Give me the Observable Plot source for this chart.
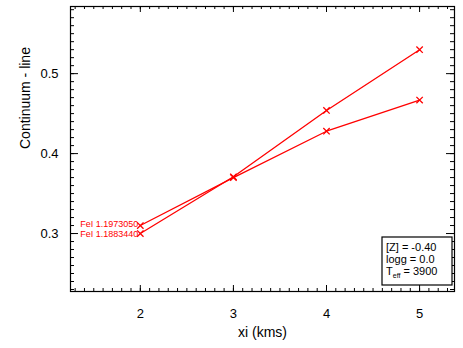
<!DOCTYPE html>
<html>
<head>
<meta charset="utf-8">
<script src="https://cdn.jsdelivr.net/npm/d3@7"></script>
<script src="https://cdn.jsdelivr.net/npm/@observablehq/plot@0.6"></script>
<style>
  html, body { margin: 0; padding: 0; background: #fff; }
  #chart { position: relative; width: 463px; height: 348px; }
</style>
</head>
<body>
<div id="chart"></div>
<script>
// ---- data ----
const xi = [2, 3, 4, 5];
const lineA = [0.300, 0.371, 0.454, 0.530]; // FeI 1.1883440
const lineB = [0.310, 0.370, 0.428, 0.467]; // FeI 1.1973050
const seriesNames = ["FeI 1.1883440", "FeI 1.1973050"];
const xMajor = [2, 3, 4, 5];
const yMajor = [0.3, 0.4, 0.5];
const xMinor = d3.range(13, 54).map(d => d / 10);
const yMinor = d3.range(23, 59).map(d => d / 100);
const legendLines = ["[Z] = -0.40", "logg = 0.0", "3900"];

const W = 463, H = 348;
const mL = 70, mR = 9, mT = 6, mB = 57;
const pw = W - mL - mR, ph = H - mT - mB;

const rows = [];
[lineA, lineB].forEach((vals, i) => vals.forEach((v, j) => rows.push({x: xi[j], y: v, s: seriesNames[i]})));
const starts = [lineA, lineB].map((vals, i) => ({x: xi[0], y: vals[0], s: seriesNames[i], off: i === 0 ? 0.5 : -1.5}));

const font = "'Liberation Sans', Arial, Helvetica, sans-serif";
const xMajLen = 6, xMinLen = 3, yMajLen = 8, yMinLen = 4;

const plot = Plot.plot({
  width: W, height: H,
  marginLeft: mL, marginRight: mR, marginTop: mT, marginBottom: mB,
  style: {fontFamily: font, fontSize: "13px", background: "#fff", color: "#000"},
  x: {domain: [1.25, 5.375], axis: null},
  y: {domain: [0.2275, 0.584], axis: null},
  marks: [
    // ticks (inward, all four sides)
    Plot.tickX(xMajor, {x: d => d, insetTop: ph - xMajLen, stroke: "#000"}),
    Plot.tickX(xMajor, {x: d => d, insetBottom: ph - xMajLen, stroke: "#000"}),
    Plot.tickX(xMinor, {x: d => d, insetTop: ph - xMinLen, stroke: "#000"}),
    Plot.tickX(xMinor, {x: d => d, insetBottom: ph - xMinLen, stroke: "#000"}),
    Plot.tickY(yMajor, {y: d => d, insetRight: pw - yMajLen, stroke: "#000"}),
    Plot.tickY(yMajor, {y: d => d, insetLeft: pw - yMajLen, stroke: "#000"}),
    Plot.tickY(yMinor, {y: d => d, insetRight: pw - yMinLen, stroke: "#000"}),
    Plot.tickY(yMinor, {y: d => d, insetLeft: pw - yMinLen, stroke: "#000"}),
    Plot.frame({stroke: "#000", strokeWidth: 1.2}),
    // tick labels
    Plot.text(xMajor, {x: d => d, frameAnchor: "bottom", dy: 22, lineAnchor: "middle", text: d => String(d), fontSize: 13}),
    Plot.text(yMajor, {y: d => d, frameAnchor: "left", dx: -12, textAnchor: "end", text: d => d.toFixed(1), fontSize: 13}),
    // axis titles
    Plot.text(["xi (kms)"], {frameAnchor: "bottom", dy: 41, lineAnchor: "middle", text: d => d, fontSize: 14}),
    Plot.text(["Continuum - line"], {frameAnchor: "left", dx: -45, rotate: -90, text: d => d, fontSize: 14}),
    // data
    Plot.line(rows, {x: "x", y: "y", z: "s", stroke: "#ff0000", strokeWidth: 1.3}),
    Plot.dot(rows, {x: "x", y: "y", symbol: "times", r: 3, stroke: "#ff0000", strokeWidth: 1.3}),
    Plot.text(starts.slice(0, 1), {x: "x", y: "y", text: "s", textAnchor: "end", dx: -2, dy: 0.5, fill: "#ff0000", fontSize: 9}),
    Plot.text(starts.slice(1), {x: "x", y: "y", text: "s", textAnchor: "end", dx: -2, dy: -1.5, fill: "#ff0000", fontSize: 9})
  ]
});
document.getElementById("chart").appendChild(plot);

// legend box annotation
const svg = d3.select(plot);
const g = svg.append("g").attr("font-family", font).attr("font-size", 11)
  .attr("fill", "#000").attr("text-anchor", "start");
g.append("rect").attr("x", 382).attr("y", 237).attr("width", 70).attr("height", 48)
  .attr("fill", "#fff").attr("stroke", "#000").attr("stroke-width", 1.2);
g.append("text").attr("x", 386).attr("y", 251).attr("text-anchor", "start").text(legendLines[0]);
g.append("text").attr("x", 386).attr("y", 263).attr("text-anchor", "start").text(legendLines[1]);
const t = g.append("text").attr("x", 386).attr("y", 275).attr("text-anchor", "start");
t.append("tspan").text("T");
t.append("tspan").attr("dy", 3).attr("font-size", 7).text("eff");
t.append("tspan").attr("dy", -3).text(" = " + legendLines[2]);
</script>
</body>
</html>
